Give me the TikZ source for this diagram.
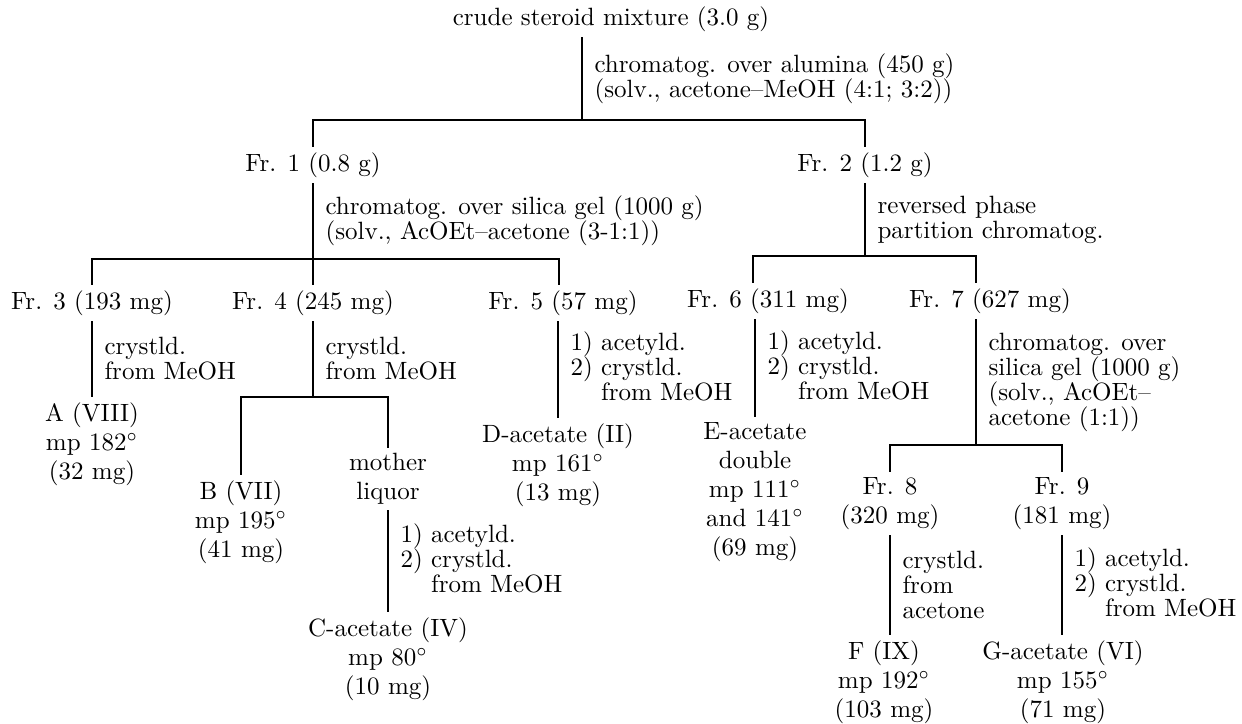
\documentclass[tikz,border=0pt]{standalone}
\begin{document}
\begin{tikzpicture}[x=0.4pt,y=0.4pt,yscale=-1,xscale=1,line width=0.45pt,
  txt/.style={anchor=north,align=center,inner sep=2pt,font=\fontsize{10}{11.6}\selectfont},
  lbl/.style={midway,anchor=west,align=left,inner xsep=4.8pt,inner ysep=0pt,font=\fontsize{10}{10}\selectfont}]
\useasboundingbox (0,0) rectangle (1242,724);

% Text Node
\node[txt] (crude) at (611,1) {crude steroid mixture (3.0 g)};
% Text Node
\node[txt] (fr1) at (313,147) {Fr. 1 (0.8 g)};
\node[txt] (fr2) at (865,147) {Fr. 2 (1.2 g)};
% Text Node
\node[txt] (fr3) at (92,285) {Fr. 3 (193 mg)};
\node[txt] (fr4) at (313,285) {Fr. 4 (245 mg)};
\node[txt] (fr5) at (563,285) {Fr. 5 (57 mg)};
\node[txt] (fr6) at (768,283) {Fr. 6 (311 mg)};
\node[txt] (fr7) at (990,283) {Fr. 7 (627 mg)};
% Text Node
\node[txt] (cpdA) at (92,397) {A (VIII)\\mp 182$^\circ$\\(32 mg)};
\node[txt] (cpdB) at (241,475) {B (VII)\\mp 195$^\circ$\\(41 mg)};
\node[txt] (liquor) at (388,448) {mother\\liquor};
\node[txt] (cpdC) at (388,612) {C-acetate (IV)\\mp 80$^\circ$\\(10 mg)};
\node[txt] (cpdD) at (558,418) {D-acetate (II)\\mp 161$^\circ$\\(13 mg)};
\node[txt] (cpdE) at (755,417) {E-acetate\\double\\mp 111$^\circ$\\and 141$^\circ$\\(69 mg)};
% Text Node
\node[txt] (fr8) at (890,472) {Fr. 8\\(320 mg)};
\node[txt] (fr9) at (1062,472) {Fr. 9\\(181 mg)};
\node[txt] (cpdF) at (884,635) {F (IX)\\mp 192$^\circ$\\(103 mg)};
\node[txt] (cpdG) at (1063,635) {G-acetate (VI)\\mp 155$^\circ$\\(71 mg)};

% Branch points
\coordinate (bar1) at (582,120);
\coordinate (bar2) at (559,259);
\coordinate (bar3) at (753,256);
\coordinate (bar4) at (388,397);
\coordinate (bar5) at (976,445);

%Straight Lines
\draw (crude.south -| bar1) -- (bar1) node[lbl] {chromatog. over alumina (450 g)\\(solv., acetone--MeOH (4:1; 3:2))};
\draw (fr1.north) |- (bar1) -| (fr2.north);

%Straight Lines
\draw (fr1.south) -- (fr1.south |- bar2) node[lbl] {chromatog. over silica gel (1000 g)\\(solv., AcOEt--acetone (3-1:1))};
\draw (fr3.north) |- (bar2) -- (bar2 |- fr5.north);
\draw (fr4.north) -- (fr4.north |- bar2);

%Straight Lines
\draw (fr2.south) -- (fr2.south |- bar3) node[lbl] {reversed phase\\partition chromatog.};
\draw (bar3 |- fr6.north) -- (bar3) -| (bar5 |- fr7.north);

%Straight Lines
\draw (fr3.south) -- (cpdA.north) node[lbl] {crystld.\\from MeOH};
\draw (fr4.south) -- (fr4.south |- bar4) node[lbl] {crystld.\\from MeOH};
\draw (cpdB.north) |- (bar4) -- (liquor.north);
\draw (liquor.south) -- (cpdC.north) node[lbl] {1) acetyld.\\2) crystld.\\\phantom{2) }from MeOH};

%Straight Lines
\draw (cpdD.north |- fr5.south) -- (cpdD.north) node[lbl] {1) acetyld.\\2) crystld.\\\phantom{2) }from MeOH};
\draw (cpdE.north |- fr6.south) -- (cpdE.north) node[lbl] {1) acetyld.\\2) crystld.\\\phantom{2) }from MeOH};

%Straight Lines
\draw (bar5 |- fr7.south) -- (bar5) node[lbl] {chromatog. over\\silica gel (1000 g)\\(solv., AcOEt--\\acetone (1:1))};
\draw (fr8.north) |- (bar5) -| (fr9.north);
\draw (fr8.south) -- (fr8.south |- cpdF.north) node[lbl] {crystld.\\from\\acetone};
\draw (fr9.south) -- (fr9.south |- cpdG.north) node[lbl] {1) acetyld.\\2) crystld.\\\phantom{2) }from MeOH};

\end{tikzpicture}
\end{document}
